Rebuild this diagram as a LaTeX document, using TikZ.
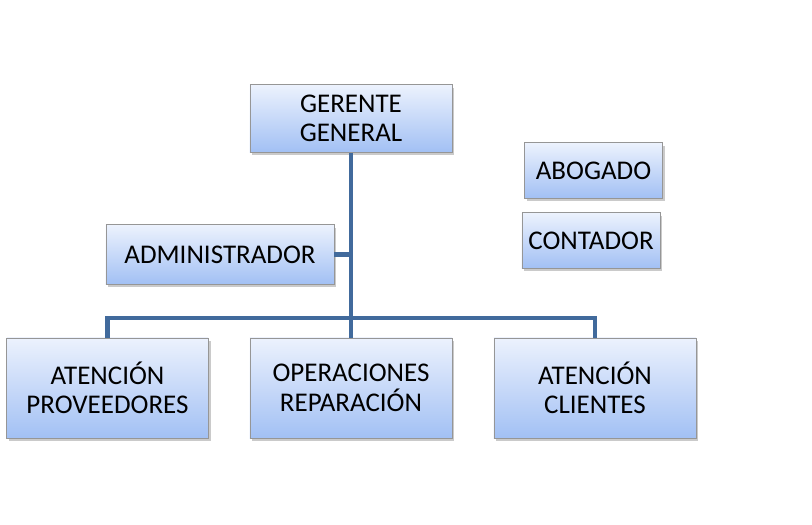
\documentclass[tikz,border=0pt]{standalone}
\usepackage{fontspec}
\setmainfont{Carlito}
\usetikzlibrary{shadows}
\definecolor{linea}{RGB}{65,106,156}
\definecolor{cajaarriba}{RGB}{236,242,253}
\definecolor{cajaabajo}{RGB}{162,192,244}
\definecolor{borde}{RGB}{150,150,150}
\begin{document}
\begin{tikzpicture}[x=0.025cm,y=-0.025cm,
  caja/.style={draw=borde, line width=0.6pt, top color=cajaarriba, bottom color=cajaabajo,
    drop shadow={shadow xshift=0.6mm, shadow yshift=-0.8mm, opacity=0.35, fill=black!60},
    align=center, inner sep=0pt, font=\fontsize{19.2}{21}\selectfont},
  linea/.style={draw=linea, line width=2.9pt}]
\useasboundingbox (0,0) rectangle (812,525);

\node[caja, minimum width=5.05cm, minimum height=1.68cm] (ger) at (351,118.5) {GERENTE\\GENERAL};
\node[caja, minimum width=3.43cm, minimum height=1.38cm] (abo) at (593.5,170.5) {ABOGADO};
\node[caja, minimum width=3.45cm, minimum height=1.38cm] (con) at (591,240.5) {CONTADOR};
\node[caja, minimum width=5.7cm, minimum height=1.48cm] (adm) at (220,254.5) {ADMINISTRADOR};
\node[caja, minimum width=5.03cm, minimum height=2.5cm] (prov) at (107.5,388) {ATENCIÓN\\PROVEEDORES};
\node[caja, minimum width=5.05cm, minimum height=2.5cm] (ope) at (351,388) {OPERACIONES\\REPARACIÓN};
\node[caja, minimum width=5.05cm, minimum height=2.5cm] (cli) at (595,388) {ATENCIÓN\\CLIENTES};

\coordinate (bus) at (351,318);
\begin{scope}[on background layer/.try]
\path[linea] (ger.south) -- (bus);
\path[linea] (adm.east) -- (adm.east -| ger.south);
\path[linea] (prov.north) |- (bus) -| (cli.north);
\path[linea] (bus) -- (ope.north);
\end{scope}
\end{tikzpicture}
\end{document}
